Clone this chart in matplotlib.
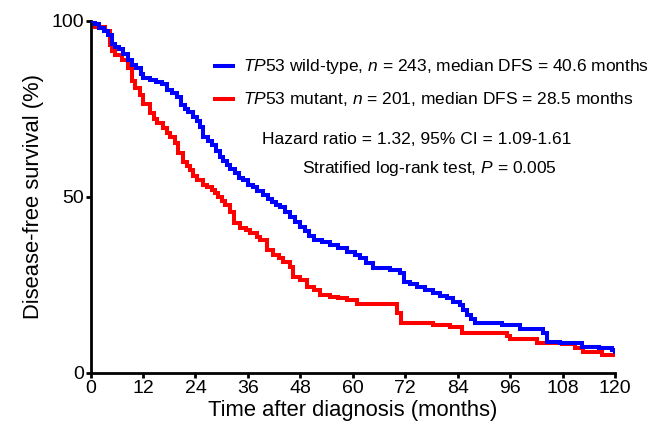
import matplotlib
matplotlib.use("Agg")
import matplotlib.pyplot as plt
from matplotlib.lines import Line2D

plt.rcParams['font.family'] = ['Liberation Sans', 'DejaVu Sans']
plt.rcParams['mathtext.fontset'] = 'custom'
plt.rcParams['mathtext.rm'] = 'Liberation Sans'
plt.rcParams['mathtext.it'] = 'Liberation Sans:italic'

# ---- data ----
wt_time = [0, 1.0, 2.0, 3.0, 4.0, 4.8, 5.5, 6.5, 7.5, 8.5, 9.4, 10.5, 11.5, 12.1, 13.5, 15.0,
           16.3, 17.4, 18.6, 19.7, 20.8, 21.5, 22.4, 23.5, 24.3, 25.0, 25.8, 26.8, 27.7, 28.6,
           29.6, 30.4, 31.1, 32.0, 33.0, 34.0, 34.9, 36.0, 37.2, 38.0, 39.5, 40.6, 41.5, 42.5,
           43.3, 44.5, 45.6, 46.8, 47.9, 49.0, 50.0, 51.0, 53.0, 54.8, 56.5, 58.6, 60.5, 61.6,
           63.0, 64.7, 68.5, 70.8, 71.6, 73.0, 74.6, 76.5, 78.4, 80.0, 81.5, 83.0, 84.5, 85.3,
           86.1, 87.0, 88.0, 94.1, 98.3, 103.6, 104.4, 107.4, 112.4, 116.2, 119.2, 120.0]
wt_surv = [100, 99.2, 98.0, 97.0, 96.0, 93.5, 92.6, 92.0, 90.5, 89.0, 87.5, 86.6, 85.0, 83.7, 83.2, 82.6,
           82.0, 80.4, 79.6, 78.5, 76.1, 75.0, 74.0, 72.8, 71.5, 70.0, 67.1, 66.0, 64.8, 63.0,
           61.4, 60.2, 59.1, 58.0, 56.7, 55.5, 54.8, 53.5, 52.9, 51.8, 50.6, 49.5, 48.5, 47.8,
           47.2, 45.8, 44.4, 43.0, 41.6, 40.3, 39.0, 37.8, 37.2, 36.4, 35.5, 34.5, 33.5, 32.6,
           31.2, 29.7, 29.3, 28.3, 25.9, 25.2, 24.5, 23.5, 22.6, 21.9, 21.2, 20.3, 19.3, 17.8,
           16.5, 15.3, 14.2, 13.6, 12.6, 11.3, 8.9, 8.4, 7.5, 7.0, 6.5, 6.0]

mut_time = [0, 1.0, 3.3, 4.4, 5.0, 5.6, 7.1, 8.6, 9.4, 10.2, 11.3, 12.1, 13.6, 14.5, 15.1, 16.6,
            17.4, 18.2, 19.3, 20.1, 21.2, 22.0, 22.7, 23.5, 24.3, 25.8, 26.7, 27.7, 28.5, 29.2,
            30.0, 30.8, 31.9, 32.7, 34.2, 35.5, 36.5, 38.0, 38.8, 40.3, 41.8, 43.0, 44.1, 45.6,
            46.4, 47.9, 49.5, 51.0, 52.5, 54.8, 56.5, 58.6, 60.9, 70.0, 71.0, 78.4, 82.2, 85.0,
            95.2, 96.0, 102.1, 107.8, 110.8, 112.7, 117.0, 120.0]
mut_surv = [100, 98.4, 97.0, 93.2, 91.5, 90.3, 88.9, 86.6, 82.8, 80.9, 79.0, 76.3, 73.8, 72.0, 70.9, 69.5,
            68.3, 67.1, 65.3, 62.4, 60.0, 58.8, 57.7, 56.0, 54.8, 53.4, 52.8, 52.0, 51.0, 50.1,
            48.8, 47.7, 45.8, 42.5, 41.3, 40.5, 39.9, 38.7, 37.8, 34.9, 33.5, 32.6, 31.6, 30.2,
            27.4, 26.4, 24.5, 23.6, 22.2, 21.7, 21.2, 20.7, 19.5, 17.0, 14.1, 13.7, 13.2, 11.3,
            10.6, 9.6, 8.6, 8.2, 7.0, 6.0, 5.1, 5.1]

x_ticks = [0, 12, 24, 36, 48, 60, 72, 84, 96, 108, 120]
y_ticks = [0, 50, 100]

legend_wt = r"$\it{TP53}$ wild-type, $\it{n}$ = 243, median DFS = 40.6 months"
legend_mut = r"$\it{TP53}$ mutant, $\it{n}$ = 201, median DFS = 28.5 months"
hr_text = "Hazard ratio = 1.32, 95% CI = 1.09-1.61"
p_text = r"Stratified log-rank test, $\it{P}$ = 0.005"

blue = '#0000ff'
red = '#ff0000'

fig = plt.figure(figsize=(6.64, 4.32), dpi=100)
ax = fig.add_axes([0.1364, 0.1366, 0.790, 0.815])

ax.step(wt_time, wt_surv, where='post', color=blue, lw=2.9, solid_joinstyle='miter', zorder=3)
ax.step(mut_time, mut_surv, where='post', color=red, lw=2.9, solid_joinstyle='miter', zorder=2)

ax.set_xlim(0, 120)
ax.set_ylim(0, 100)
ax.set_xticks(x_ticks)
ax.set_yticks(y_ticks)
for s in ['top', 'right']:
    ax.spines[s].set_visible(False)
for s in ['left', 'bottom']:
    ax.spines[s].set_linewidth(2.0)
ax.tick_params(axis='both', direction='out', length=3.5, width=2.0, labelsize=14, pad=1.5)
ax.set_xlabel("Time after diagnosis (months)", fontsize=15.8, labelpad=2)
ax.set_ylabel("Disease-free survival (%)", fontsize=15.8, labelpad=5)

# legend drawn manually
def fx(px):
    return px / 664.0
def fy(py):
    return 1 - py / 432.0

for py, col, txt in [(66, blue, legend_wt), (99, red, legend_mut)]:
    fig.add_artist(Line2D([fx(215), fx(233)], [fy(py), fy(py)], color=col, lw=2.9))
    fig.text(fx(243), fy(py), txt, fontsize=12.5, va='center', ha='left')

fig.text(fx(417), fy(139), hr_text, fontsize=12.5, va='center', ha='center')
fig.text(fx(429), fy(168), p_text, fontsize=12.5, va='center', ha='center')

fig.savefig("out.png", dpi=100)
